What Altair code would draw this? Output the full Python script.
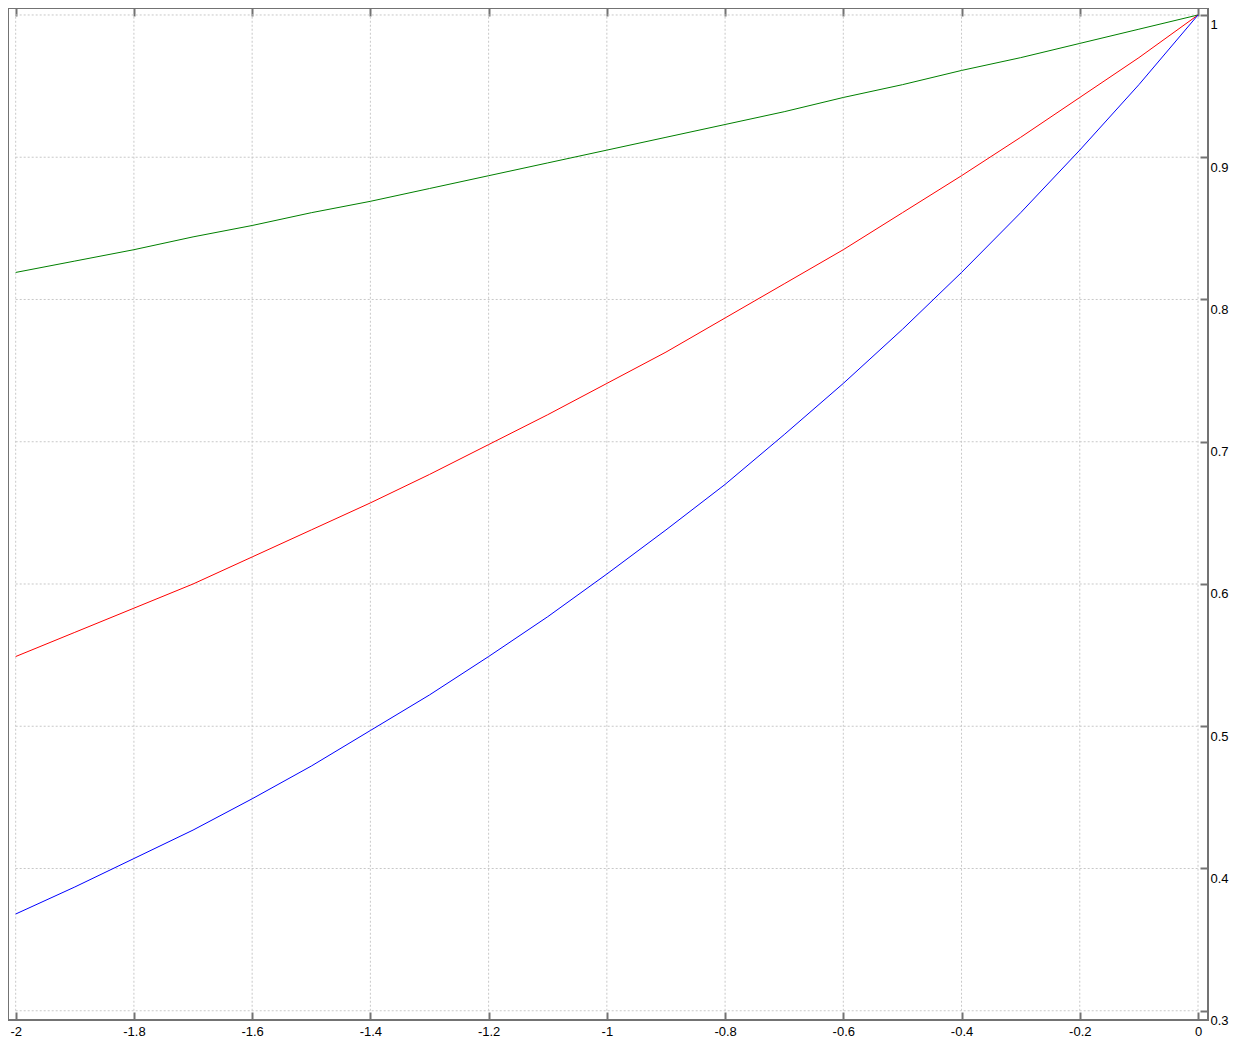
import altair as alt
import pandas as pd

# x samples
xs = [-2.0, -1.9, -1.8, -1.7, -1.6, -1.5, -1.4, -1.3, -1.2, -1.1, -1.0,
      -0.9, -0.8, -0.7, -0.6, -0.5, -0.4, -0.3, -0.2, -0.1, 0.0]

green_vals = [0.819, 0.827, 0.835, 0.844, 0.852, 0.861, 0.869, 0.878, 0.887, 0.896, 0.905,
              0.914, 0.923, 0.932, 0.942, 0.951, 0.961, 0.970, 0.980, 0.990, 1.0]
red_vals = [0.549, 0.566, 0.583, 0.600, 0.619, 0.638, 0.657, 0.677, 0.698, 0.719, 0.741,
            0.763, 0.787, 0.811, 0.835, 0.861, 0.887, 0.914, 0.942, 0.970, 1.0]
blue_vals = [0.368, 0.387, 0.407, 0.427, 0.449, 0.472, 0.497, 0.522, 0.549, 0.577, 0.607,
             0.638, 0.670, 0.705, 0.741, 0.779, 0.819, 0.861, 0.905, 0.951, 1.0]

series_names = ["green", "red", "blue"]
series_colors = ["#008000", "#ff0000", "#0000ff"]

x_ticks = [-2, -1.8, -1.6, -1.4, -1.2, -1, -0.8, -0.6, -0.4, -0.2, 0]
y_ticks = [0.3, 0.4, 0.5, 0.6, 0.7, 0.8, 0.9, 1]

rows = []
for name, vals in zip(series_names, [green_vals, red_vals, blue_vals]):
    for x, y in zip(xs, vals):
        rows.append({"x": x, "y": y, "series": name})
df = pd.DataFrame(rows)

xgrid = pd.DataFrame({"x": x_ticks, "ylo": min(y_ticks), "yhi": max(y_ticks)})
ygrid = pd.DataFrame({"y": y_ticks, "xlo": min(x_ticks), "xhi": max(x_ticks)})

xscale = alt.Scale(domain=[-2.013, 0.0169], nice=False, zero=False)
yscale = alt.Scale(domain=[0.2935, 1.0049], nice=False, zero=False)

FRAME = "#737373"
GRID = "#c8c8c8"
FONT = "Liberation Sans"

yaxis = alt.Axis(orient="right", values=y_ticks, domain=False, grid=False,
                 tickSize=8, offset=-8, tickColor=FRAME, tickWidth=2,
                 labelPadding=2, labelFont=FONT, labelFontSize=13, labelColor="#000000",
                 labelBaseline="middle", labelOffset=10,
                 labelExpr="'' + datum.value", title=None)

vgrid = alt.Chart(xgrid).mark_rule(color=GRID, strokeWidth=1, strokeDash=[2, 2]).encode(
    x=alt.X("x:Q", scale=xscale,
            axis=alt.Axis(orient="top", values=x_ticks, labels=False, domain=False, grid=False,
                          tickSize=8, offset=-8, tickColor=FRAME, tickWidth=2, title=None)),
    y=alt.Y("ylo:Q", scale=yscale, axis=yaxis),
    y2="yhi:Q",
)

hgrid = alt.Chart(ygrid).mark_rule(color=GRID, strokeWidth=1, strokeDash=[2, 2]).encode(
    y=alt.Y("y:Q", scale=yscale, axis=yaxis),
    x=alt.X("xlo:Q", scale=xscale, axis=None),
    x2="xhi:Q",
)

lines = alt.Chart(df).mark_line(strokeWidth=1).encode(
    x=alt.X("x:Q", scale=xscale,
            axis=alt.Axis(orient="bottom", values=x_ticks, domain=False, grid=False,
                          tickSize=8, offset=-8, tickColor=FRAME, tickWidth=2,
                          labelPadding=5, labelFont=FONT, labelFontSize=13, labelColor="#000000",
                          labelExpr="'' + datum.value", title=None)),
    y=alt.Y("y:Q", scale=yscale, axis=yaxis),
    color=alt.Color("series:N", scale=alt.Scale(domain=series_names, range=series_colors), legend=None),
    detail="series:N",
)

chart = alt.layer(vgrid, hgrid, lines).resolve_axis(x="independent").properties(
    width=1200,
    height=1012,
    autosize=alt.AutoSizeParams(type="none"),
    padding={"left": 0, "top": 0, "right": 21, "bottom": 17},
    background="white",
).configure_view(stroke=FRAME, strokeWidth=2)

chart.save("out.html", embed_options={"renderer": "svg", "actions": False})
